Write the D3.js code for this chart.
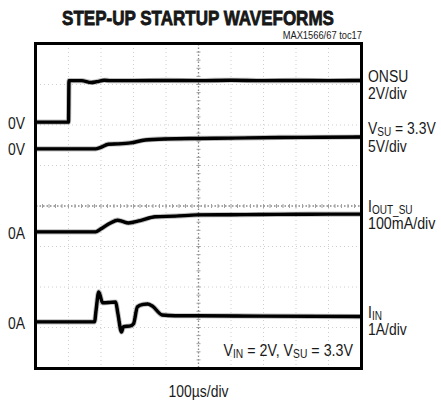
<!DOCTYPE html>
<html>
<head>
<meta charset="utf-8">
<script src="https://cdn.jsdelivr.net/npm/d3@7/dist/d3.min.js"></script>
<style>
  html, body { margin: 0; padding: 0; background: #fff; }
  svg { display: block; }
  text { font-family: "Liberation Sans", Arial, sans-serif; fill: #1a1a1a; }
</style>
</head>
<body>
<svg id="chart" width="441" height="407"></svg>
<script>
// ---- Data (time in µs, 100 µs/div over 10 divisions) ----
const timeDomain = [0, 1000];
const divisionsX = 10;
const divisionsY = 8;

// ONSU (2 V/div), volts
const onsuTime  = [0, 100, 101.5, 140, 170, 187, 210, 230, 300, 400, 500, 600, 700, 800, 900, 1000];
const onsuValue = [0, 0, 2.05, 2.05, 1.96, 2.0, 2.07, 2.05, 2.05, 2.06, 2.05, 2.07, 2.05, 2.06, 2.05, 2.06];

// VSU (5 V/div), volts
const vsuTime  = [0, 183, 199, 223, 254, 291, 336, 398, 505, 600, 749, 880, 1000];
const vsuValue = [0, 0, 0.18, 0.58, 0.62, 0.74, 1.10, 1.23, 1.29, 1.33, 1.41, 1.44, 1.47];

// IOUT_SU (100 mA/div), mA
const ioutTime  = [0, 183, 199, 229, 251, 266, 284, 321, 367, 428, 498, 600, 688, 800, 900, 1000];
const ioutValue = [0, 0, 7, 22, 29, 26, 22, 28, 37.5, 39, 42, 42.5, 43, 43.5, 44, 44];

// IIN (1 A/div), amps
const iinTime  = [0, 180, 185, 193, 205, 229, 245, 252, 263, 269, 291, 300, 312, 330, 343, 358, 388, 428, 498, 700, 1000];
const iinValue = [0, 0, 0.3, 0.74, 0.47, 0.48, 0.49, 0.2, -0.25, -0.12, -0.10, -0.05, 0.37, 0.43, 0.44, 0.39, 0.17, 0.15, 0.15, 0.14, 0.13];

// channel settings: ground level (in divisions from bottom) and units per division
const channelNames   = ["ONSU", "VSU", "IOUT", "IIN"];
const channelZeroDiv = [6.07, 5.41, 3.36, 1.14];
const channelPerDiv  = [2, 5, 100, 1];

// ---- Drawing ----
const svg = d3.select("#chart");
const pLeft = 36, pRight = 361, pTop = 44, pBottom = 368;

const x = d3.scaleLinear().domain(timeDomain).range([pLeft, pRight]);
const yDiv = d3.scaleLinear().domain([0, divisionsY]).range([pBottom, pTop]);
const xDiv = d3.scaleLinear().domain([0, divisionsX]).range([pLeft, pRight]);

// grid
const g = svg.append("g");
for (let i = 1; i < divisionsX; i++) {
  g.append("line").attr("x1", xDiv(i)).attr("x2", xDiv(i)).attr("y1", pTop).attr("y2", pBottom)
    .attr("stroke", i === 5 ? "#888" : "#cfcfcf").attr("stroke-width", i === 5 ? 1.3 : 1)
    .attr("stroke-dasharray", i === 5 ? "1.5,2" : "1,3");
}
for (let j = 1; j < divisionsY; j++) {
  g.append("line").attr("y1", yDiv(j)).attr("y2", yDiv(j)).attr("x1", pLeft).attr("x2", pRight)
    .attr("stroke", j === 4 ? "#888" : "#cfcfcf").attr("stroke-width", j === 4 ? 1.3 : 1)
    .attr("stroke-dasharray", j === 4 ? "1.5,2" : "1,3");
}
// minor ticks on center lines
for (let k = 1; k < divisionsX * 5; k++) {
  const xx = xDiv(k / 5);
  g.append("line").attr("x1", xx).attr("x2", xx).attr("y1", yDiv(4) - 2).attr("y2", yDiv(4) + 2)
    .attr("stroke", "#a0a0a0").attr("stroke-width", 1);
}
for (let k = 1; k < divisionsY * 5; k++) {
  const yy = yDiv(k / 5);
  g.append("line").attr("y1", yy).attr("y2", yy).attr("x1", xDiv(5) - 2).attr("x2", xDiv(5) + 2)
    .attr("stroke", "#a0a0a0").attr("stroke-width", 1);
}

// traces
const defs = svg.append("defs");
defs.append("filter").attr("id", "soft").append("feGaussianBlur").attr("stdDeviation", 0.45);

const traces = [
  [onsuTime, onsuValue],
  [vsuTime, vsuValue],
  [ioutTime, ioutValue],
  [iinTime, iinValue]
];
const tg = svg.append("g").attr("filter", "url(#soft)");
traces.forEach(([ts, vs], i) => {
  const pts = ts.map((t, k) => [t, vs[k]]);
  const line = d3.line()
    .x(d => x(d[0]))
    .y(d => yDiv(channelZeroDiv[i] + d[1] / channelPerDiv[i]))
    .curve(d3.curveMonotoneX);
  tg.append("path").attr("d", line(pts)).attr("fill", "none")
    .attr("stroke", "#444").attr("stroke-opacity", 0.35).attr("stroke-width", 5.2)
    .attr("stroke-linejoin", "round");
  tg.append("path").attr("d", line(pts)).attr("fill", "none")
    .attr("stroke", "#000").attr("stroke-width", 3.4)
    .attr("stroke-linejoin", "round").attr("stroke-linecap", "butt");
});

// frame
svg.append("rect").attr("x", pLeft - 0.5).attr("y", pTop - 0.5)
  .attr("width", pRight - pLeft + 1).attr("height", pBottom - pTop + 1)
  .attr("fill", "none").attr("stroke", "#000").attr("stroke-width", 3);

// ---- Text (condensed by horizontal scaling) ----
function label(xp, yp, parts, opts = {}) {
  const size = opts.size || 17;
  const sx = opts.sx || 0.82;
  const grp = svg.append("g").attr("transform", `translate(${xp},${yp}) scale(${sx},1)`);
  const t = grp.append("text").attr("x", 0).attr("y", 0)
    .attr("text-anchor", opts.anchor || "start")
    .style("font-size", size + "px");
  if (opts.bold) t.style("font-weight", "bold").attr("stroke", "#111").attr("stroke-width", 0.8);
  parts.forEach(p => {
    const s = t.append("tspan").text(p[0]);
    if (p[1] === "sub") s.style("font-size", (size * 0.72) + "px").attr("dy", 2);
    if (p[1] === "up") s.attr("dy", -2);
  });
  return t;
}

label(198, 25, [["STEP-UP STARTUP WAVEFORMS"]], { size: 20.5, sx: 0.83, bold: true, anchor: "middle" });
label(362, 39, [["MAX1566/67 toc17"]], { size: 11, sx: 0.85, anchor: "end" });
label(198.5, 397, [["100\u00B5s/div"]], { anchor: "middle" });

// left ground labels
const leftLabels = ["0V", "0V", "0A", "0A"];
const leftBaselines = [129, 155, 239, 329];
leftLabels.forEach((t, i) => label(8, leftBaselines[i], [[t]]));

// right labels
const rx = 368;
label(rx, 82, [["ONSU"]]);
label(rx, 99, [["2V/div"]]);
label(rx, 134, [["V"], ["SU", "sub"], [" = 3.3V", "up"]]);
label(rx, 152, [["5V/div"]]);
label(rx, 212, [["I"], ["OUT_SU", "sub"]]);
label(rx, 229, [["100mA/div"]], { sx: 0.84 });
label(rx, 318, [["I"], ["IN", "sub"]]);
label(rx, 335, [["1A/div"]]);

label(353, 356, [["V"], ["IN", "sub"], [" = 2V, V", "up"], ["SU", "sub"], [" = 3.3V", "up"]], { anchor: "end", sx: 0.84 });
</script>
</body>
</html>
